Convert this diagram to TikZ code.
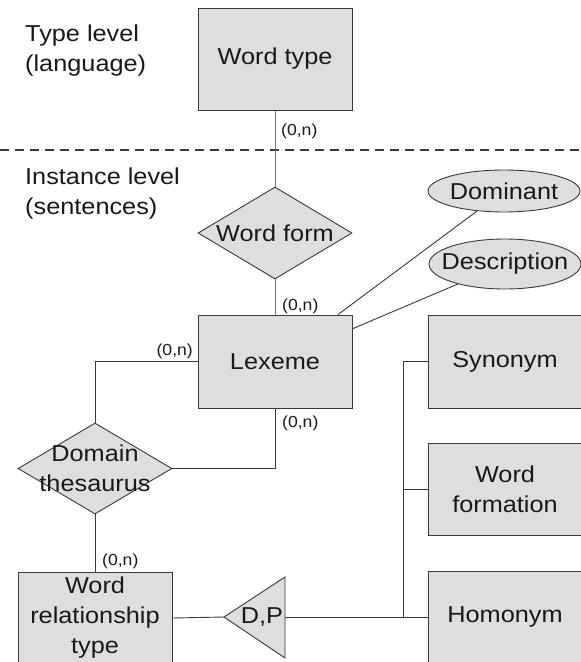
\documentclass[tikz,border=0pt]{standalone}
\usepackage{fontspec}
\setmainfont{Liberation Sans}[FakeStretch=1.1]
\usetikzlibrary{shapes.geometric}
\definecolor{erfill}{RGB}{221,222,224}
\definecolor{erline}{RGB}{58,58,58}
\begin{document}
\begin{tikzpicture}[x=1pt,y=-1pt,
  every node/.style={font=\fontsize{23}{30}\selectfont, text=black!90},
  entity/.style={rectangle, draw=erline, fill=erfill, line width=1pt,
    minimum width=154pt, minimum height=93pt, inner sep=0pt, align=center},
  relation/.style={diamond, draw=erline, fill=erfill, line width=0.9pt,
    minimum width=154pt, minimum height=92pt, inner sep=0pt},
  attribute/.style={ellipse, draw=erline, fill=erfill, line width=0.9pt,
    minimum width=152pt, inner sep=0pt},
  link/.style={draw=erline, line width=0.9pt},
  card/.style={font=\fontsize{16}{18}\selectfont, inner sep=0pt},
  levelnote/.style={anchor=west, inner sep=0pt, align=left}]

\useasboundingbox[fill=white] (0,0) rectangle (581,662);

% level separator and level captions
\draw[erline, line width=1.4pt, dash pattern=on 9pt off 6pt] (0,150) -- (581,150);
\node[levelnote] (typelevel) at (25,51) {Type level\\(language)};
\node[levelnote] (instlevel) at (25,194) {Instance level\\(sentences)};

% entities
\node[entity, minimum height=102pt] (wt) at (275,59) {Word type};
\node[entity] (lex) at (275,361.5) {Lexeme};
\node[entity] (syn) at (505,361.5) {Synonym};
\node[entity, minimum height=92pt] (wfm) at (505,489) {Word\\formation};
\node[entity, minimum height=92pt] (hom) at (505,617) {Homonym};
\node[entity, minimum height=92pt] (wrt) at (95,618) {Word\\relationship\\type};

% relationships
\node[relation] (wf) at (275,233) {};
\node (wftext) at (wf) {Word form};
\node[relation, minimum height=91pt] (dt) at (95,468.5) {};
\node[align=center] (dttext) at (dt) {Domain\\thesaurus};

% attributes
\node[attribute, minimum height=42pt] (dom) at (504,191) {};
\node (domtext) at (dom) {Dominant};
\node[attribute, minimum height=50pt] (desc) at (505,264) {};
\node (desctext) at (desc) {Description};

% generalisation triangle (disjoint, partial)
\coordinate (dptip) at (224,617);
\coordinate (dpbase) at (285,617);
\draw[erline, fill=erfill, line width=0.9pt] (dptip) -- (285,577) -- (285,658) -- cycle;
\node (dp) at (262,617) {D,P};
\coordinate (junction) at (403,617);

% connectors
\draw[link, draw=black!55] (wt.south) -- (wf.north);
\draw[link, draw=black!55] (wf.south) -- (lex.north);
\draw[link] (lex.west) -| (dt.north);
\draw[link] (dt.east) -| (lex.south);
\draw[link] (dt.south) -- (wrt.north);
\draw[link] (dom) -- (lex);
\draw[link] (desc) -- (lex);
\draw[link] (wrt.east) -- (dptip);
\draw[link] (dpbase) -- (hom.west);
\draw[link] (syn.west) -- (syn.west -| junction) -- (junction);
\draw[link] (wfm.west) -- (wfm.west -| junction);

% cardinalities
\node[card, anchor=west] (c1) at (281,131) {(0,n)};
\node[card, anchor=west] (c2) at (282,306) {(0,n)};
\node[card, anchor=west] (c3) at (282,423) {(0,n)};
\node[card, anchor=east] (c4) at (193,351) {(0,n)};
\node[card, anchor=west] (c5) at (102,561) {(0,n)};
\end{tikzpicture}
\end{document}
